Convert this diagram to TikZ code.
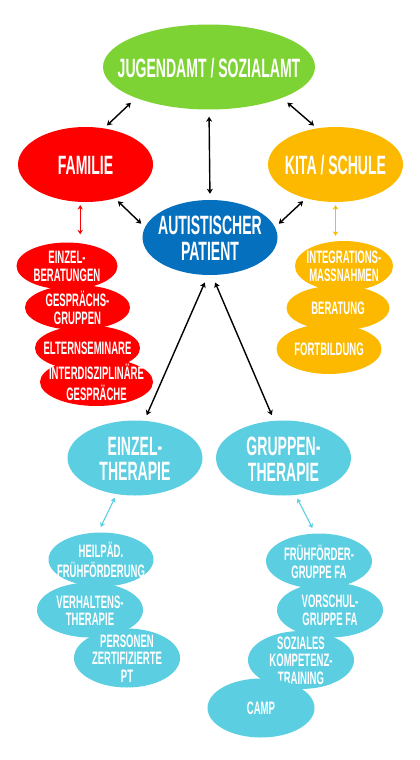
\documentclass[tikz,border=0pt]{standalone}
\usepackage{fontspec}
\newfontfamily\ellfont{Liberation Sans}[FakeStretch=0.53]
\usetikzlibrary{shapes.geometric, arrows.meta}
\definecolor{amtgreen}{RGB}{126,211,52}
\definecolor{famred}{RGB}{255,0,0}
\definecolor{kitaorange}{RGB}{252,185,0}
\definecolor{patblue}{RGB}{4,112,190}
\definecolor{thcyan}{RGB}{92,206,226}
% text centred in an ellipse without widening it
\newcommand{\elltext}[1]{\makebox[0pt]{\raisebox{-0.41em}[0pt][0pt]{\begin{tabular}{@{}c@{}}#1\end{tabular}}}}

\begin{document}
\begin{tikzpicture}[
			x=1pt, y=-1pt,
			hub/.style={ellipse, inner sep=0pt, minimum width=135pt, minimum height=75pt, text=white, font=\ellfont\bfseries\fontsize{26.5}{25}\selectfont},
			offer/.style={ellipse, inner sep=0pt, minimum width=106pt, minimum height=50pt, text=white, font=\ellfont\bfseries\fontsize{18}{17}\selectfont},
			link/.style={<->, >={Stealth[length=5pt, width=6pt, inset=1.5pt]}, line width=1.4pt},
			thinlink/.style={<->, >={Stealth[length=4.5pt, width=5.5pt, inset=1.5pt]}, line width=1.1pt}
			]
			\useasboundingbox (0,0) rectangle (420,760);
			
			\node[hub, fill=amtgreen, minimum width=212pt, minimum height=85pt] (amt) at (209,67) {\elltext{JUGENDAMT / SOZIALAMT}};
			\node[hub, fill=famred] (familie) at (85.5,164.5) {\elltext{FAMILIE}};
			\node[hub, fill=kitaorange] (kita) at (335.5,164.5) {\elltext{KITA / SCHULE}};
			\node[hub, fill=patblue] (patient) at (210,237.5) {\elltext{AUTISTISCHER\\PATIENT}};
			\node[hub, fill=thcyan] (einzel) at (135,458) {\elltext{EINZEL-\\THERAPIE}};
			\node[hub, fill=thcyan] (gruppe) at (283.5,458) {\elltext{GRUPPEN-\\THERAPIE}};
			
			% Familie
			\node[offer, fill=famred, minimum width=101pt, minimum height=47pt] (beratung) at (67,266) {\elltext{EINZEL-\\BERATUNGEN}};
			\node[offer, fill=famred, minimum width=105pt, minimum height=45pt] (gespraech) at (77.5,307.5) {\elltext{GESPRÄCHS-\\GRUPPEN}};
			\node[offer, fill=famred, minimum width=105pt, minimum height=45pt] (seminar) at (87.5,348) {\elltext{ELTERNSEMINARE}};
			\node[offer, fill=famred, minimum width=113pt, minimum height=48pt] (interdis) at (96.5,382) {\elltext{INTERDISZIPLINÄRE\\GESPRÄCHE}};
			
			% Kita / Schule
			\node[offer, fill=kitaorange, minimum width=98pt] (integration) at (344,266) {\elltext{INTEGRATIONS-\\MASSNAHMEN}};
			\node[offer, fill=kitaorange, minimum width=103pt, minimum height=45pt] (kitaberatung) at (338,308) {\elltext{BERATUNG}};
			\node[offer, fill=kitaorange, minimum width=105pt] (fortbildung) at (329,349) {\elltext{FORTBILDUNG}};
			
			% Einzeltherapie
			\node[offer, fill=thcyan, minimum width=105pt, minimum height=54pt] (heilpaed) at (101,559.5) {\elltext{HEILPÄD.\\FRÜHFÖRDERUNG}};
			\node[offer, fill=thcyan, minimum height=55pt] (verhalten) at (90,610) {\elltext{VERHALTENS-\\THERAPIE}};
			\node[offer, fill=thcyan, minimum height=59pt] (personen) at (127,658) {\elltext{PERSONEN\\ZERTIFIZIERTE\\PT}};
			
			% Gruppentherapie
			\node[offer, fill=thcyan, minimum height=55pt] (fruehgruppe) at (319,561) {\elltext{FRÜHFÖRDER-\\GRUPPE FA}};
			\node[offer, fill=thcyan, minimum height=55pt] (vorschule) at (330,610) {\elltext{VORSCHUL-\\GRUPPE FA}};
			\node[offer, fill=thcyan, minimum height=58pt] (soziales) at (301,660) {\elltext{SOZIALES\\KOMPETENZ-\\TRAINING}};
			\node[offer, fill=thcyan, minimum width=107pt, minimum height=59pt] (camp) at (261,708) {\elltext{CAMP}};
			
			\draw[link, shorten <=7pt, shorten >=4pt] (amt.203) -- (familie.63);
			\draw[link, shorten <=7pt, shorten >=4pt] (amt.337) -- (kita.117);
			\draw[link, shorten <=7pt, shorten >=6pt] (amt.south) -- (patient.north);
			\draw[link, shorten <=4pt, shorten >=5pt] (familie.311) -- (patient.171);
			\draw[link, shorten <=4pt, shorten >=5pt] (kita.229) -- (patient.9);
			\draw[link, shorten <=8pt, shorten >=6pt] (patient.267) -- (einzel.76);
			\draw[link, shorten <=8pt, shorten >=6pt] (patient.273) -- (gruppe.104);
			
			\draw[thinlink, famred, shorten <=3pt, shorten >=8pt] (familie.262) -- (familie.262 |- beratung.north);
			\draw[thinlink, kitaorange, shorten <=3pt, shorten >=5pt] (kita.south) -- (kita.south |- integration.north);
			\draw[thinlink, thcyan, shorten <=4pt, shorten >=6pt] (einzel.243) -- (heilpaed.96);
			\draw[thinlink, thcyan, shorten <=4pt, shorten >=6pt] (gruppe.288) -- (fruehgruppe.98);
		\end{tikzpicture}
\end{document}
